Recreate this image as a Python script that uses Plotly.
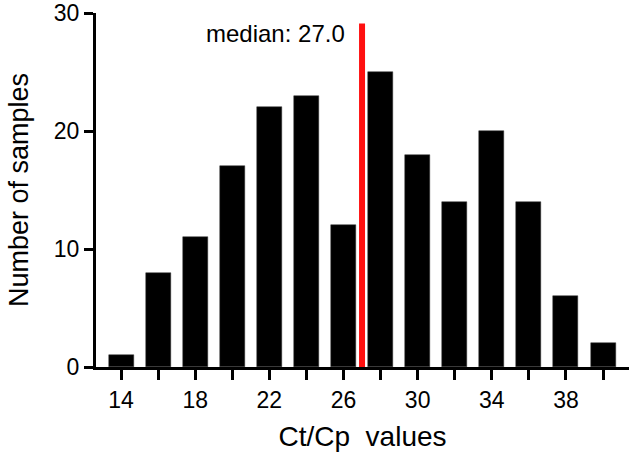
import plotly.graph_objects as go

bin_centers = [14, 16, 18, 20, 22, 24, 26, 28, 30, 32, 34, 36, 38, 40]
counts = [1, 8, 11, 17, 22, 23, 12, 25, 18, 14, 20, 14, 6, 2]
median_value = 27.0
x_tick_vals = list(range(14, 41, 2))
x_tick_text = [str(v) if (v - 14) % 4 == 0 else "" for v in x_tick_vals]
y_tick_vals = [0, 10, 20, 30]

FONT = "Arial, Liberation Sans, Helvetica, sans-serif"

fig = go.Figure()
fig.add_trace(go.Bar(
    x=bin_centers, y=counts, width=1.35,
    marker=dict(color="black", line=dict(color="#333333", width=0.5)),
    showlegend=False,
))

fig.add_shape(type="line", x0=median_value, x1=median_value, y0=0, y1=29.1,
              xref="x", yref="y", line=dict(color="#ff1010", width=6))

fig.add_annotation(x=26.2, y=28.25, xref="x", yref="y", text=f"median: {median_value:.1f}",
                   showarrow=False, xanchor="right", yanchor="middle",
                   font=dict(family=FONT, size=24, color="black"))

fig.update_layout(
    width=629, height=458,
    margin=dict(l=96, r=0, t=13, b=91),
    plot_bgcolor="white", paper_bgcolor="white",
    font=dict(family=FONT, color="black"),
    bargap=0,
)
fig.update_xaxes(
    range=[12.65, 41.4], showline=True, linecolor="black", linewidth=3,
    showgrid=False, zeroline=False,
    tickmode="array", tickvals=x_tick_vals, ticktext=x_tick_text,
    ticks="outside", ticklen=10, tickwidth=3, tickcolor="black",
    tickfont=dict(size=23, family=FONT),
    title=dict(text="Ct/Cp  values", font=dict(size=28, family=FONT), standoff=15),
)
fig.update_yaxes(
    range=[0, 30], showline=True, linecolor="black", linewidth=3,
    showgrid=False, zeroline=False,
    tickmode="array", tickvals=y_tick_vals,
    ticks="outside", ticklen=9, tickwidth=3, tickcolor="black",
    tickfont=dict(size=23, family=FONT),
    title=dict(text="Number of samples", font=dict(size=27, family=FONT), standoff=18),
)

fig.write_html("out.html", config={"displayModeBar": False},
               post_script="document.body.style.margin='0';document.body.style.overflow='hidden';")
